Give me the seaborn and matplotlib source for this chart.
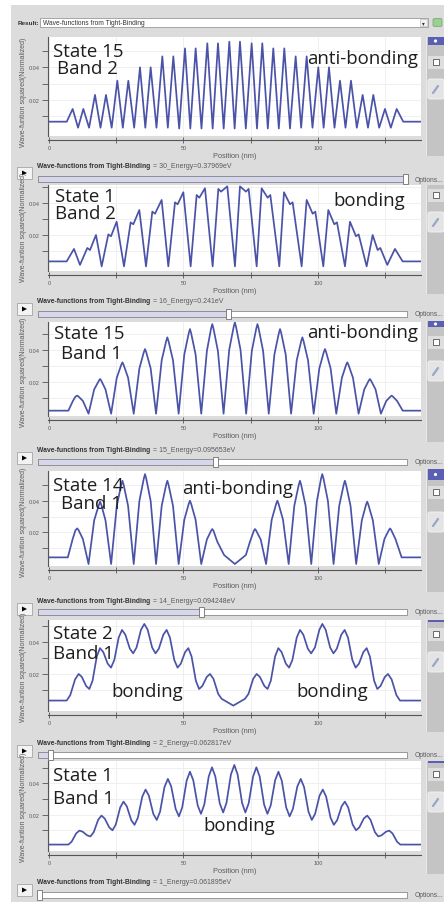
import matplotlib
matplotlib.use("Agg")
import matplotlib.pyplot as plt
import seaborn as sns
import pandas as pd
from matplotlib.patches import Rectangle, Polygon, FancyBboxPatch
from matplotlib.transforms import Bbox

# ---------------- wave-function samples (position in nm, |psi|^2 normalized) ----------------
s15b2_pos = [0, 6.6, 8.8, 10.8, 12.76, 14.9, 17.1, 19.15, 21.19, 23.3, 25.4, 27.45, 29.49, 31.66,
             33.83, 35.81, 37.79, 39.96, 42.13, 44.18, 46.22, 48.39, 50.56, 52.54, 54.52, 56.69,
             58.86, 60.85, 62.83, 64.94, 67.04, 69.02, 71.0, 73.17, 75.34, 77.32, 79.3, 81.35,
             83.39, 85.44, 87.48, 89.59, 91.7, 93.75, 95.79, 97.96, 100.12, 102.1, 104.09, 106.14,
             108.18, 110.23, 112.27, 114.44, 116.61, 118.59, 120.57, 122.74, 124.91, 127.08, 129.25,
             131.7, 138.5]
s15b2_psi2 = [0.0067, 0.0067,
              0.0145, 0.003, 0.0145, 0.003, 0.0231, 0.003, 0.0231, 0.003, 0.0318, 0.003,
              0.0318, 0.003, 0.0400, 0.003, 0.0400, 0.003, 0.0467, 0.003, 0.0467, 0.0025,
              0.0516, 0.0025, 0.0516, 0.0025, 0.0547, 0.0025, 0.0547, 0.0025, 0.0557, 0.0025,
              0.0557, 0.0025, 0.0547, 0.0025, 0.0547, 0.0025, 0.0516, 0.0025, 0.0516, 0.0025,
              0.0467, 0.003, 0.0467, 0.003, 0.0400, 0.003, 0.0400, 0.003, 0.0318, 0.003,
              0.0318, 0.003, 0.0231, 0.003, 0.0231, 0.003, 0.0145, 0.003, 0.0145,
              0.0067, 0.0067]

s1b2_pos = [0, 6.57, 9.29, 11.52,
            14.25, 15.24, 17.47, 19.58,
            22.06, 23.05, 25.15, 27.88,
            30.36, 31.35, 33.58, 36.06,
            38.41, 39.41, 41.88, 44.36,
            46.84, 47.83, 49.94, 52.66,
            54.90, 55.88, 57.99, 60.84,
            62.95, 63.94, 66.29, 69.14,
            71.0, 73.23, 74.23, 77.2,
            79.06, 81.29, 82.28, 85.62,
            87.36, 89.59, 90.58, 93.93,
            95.79, 98.02, 99.01, 101.98,
            103.84, 106.07, 107.06, 110.04,
            111.9, 114.13, 115.12, 118.09,
            120.32, 122.18, 123.17, 125.77,
            128.62, 131.47, 138.5]
s1b2_psi2 = [0.0035, 0.0035, 0.0113, 0.0013,
             0.0119, 0.0106, 0.0200, 0.0004,
             0.0204, 0.0192, 0.0283, 0.0004,
             0.0279, 0.0267, 0.0356, 0.0004,
             0.0346, 0.0333, 0.0419, 0.0004,
             0.0404, 0.0392, 0.0467, 0.0004,
             0.0450, 0.0433, 0.0492, 0.0004,
             0.0488, 0.0471, 0.0504, 0.0004,
             0.0504, 0.0471, 0.0488, 0.0004,
             0.0492, 0.0433, 0.0450, 0.0004,
             0.0467, 0.0392, 0.0404, 0.0004,
             0.0419, 0.0333, 0.0346, 0.0004,
             0.0356, 0.0267, 0.0279, 0.0004,
             0.0283, 0.0192, 0.0204, 0.0004,
             0.0200, 0.0106, 0.0119, 0.0013,
             0.0113, 0.0035, 0.0035]

s15b1_pos = [0, 7.2,
             8.9, 9.85, 10.5, 11.0, 12.6, 14.7,
             16.8, 18.55, 19.0, 19.45, 21.0, 23.1,
             25.2, 26.85, 27.3, 27.75, 29.4, 31.5,
             33.6, 35.25, 35.7, 36.15, 37.8, 39.8,
             41.9, 43.55, 44.0, 44.45, 46.1, 48.2,
             50.3, 51.95, 52.4, 52.85, 54.5, 56.6,
             58.7, 60.25, 60.7, 61.15, 62.8, 64.9,
             67.0, 68.65, 69.1, 69.55, 71.2, 73.3,
             75.4, 77.05, 77.5, 77.95, 79.6, 81.7,
             83.8, 85.45, 85.9, 86.35, 88.0, 90.0,
             92.1, 93.75, 94.2, 94.65, 96.3, 98.4,
             100.5, 102.15, 102.6, 103.05, 104.7, 106.8,
             108.9, 110.45, 110.9, 111.35, 113.0, 115.1,
             117.2, 118.85, 119.3, 119.75, 121.4, 123.4,
             125.4, 126.95, 127.4, 127.85, 129.4, 131.5,
             138.5]
s15b1_psi2 = [0.0019, 0.0019,
              0.0080, 0.0107, 0.0113, 0.0107, 0.0080, 0.0,
              0.0152, 0.0206, 0.0217, 0.0206, 0.0152, 0.0,
              0.0225, 0.0305, 0.0321, 0.0305, 0.0225, 0.0,
              0.0283, 0.0384, 0.0404, 0.0384, 0.0283, 0.0,
              0.0334, 0.0453, 0.0477, 0.0453, 0.0334, 0.0,
              0.0370, 0.0503, 0.0529, 0.0503, 0.0370, 0.0,
              0.0392, 0.0532, 0.0560, 0.0532, 0.0392, 0.0,
              0.0400, 0.0542, 0.0571, 0.0542, 0.0400, 0.0,
              0.0392, 0.0532, 0.0560, 0.0532, 0.0392, 0.0,
              0.0370, 0.0503, 0.0529, 0.0503, 0.0370, 0.0,
              0.0334, 0.0453, 0.0477, 0.0453, 0.0334, 0.0,
              0.0283, 0.0384, 0.0404, 0.0384, 0.0283, 0.0,
              0.0225, 0.0305, 0.0321, 0.0305, 0.0225, 0.0,
              0.0152, 0.0206, 0.0217, 0.0206, 0.0152, 0.0,
              0.0080, 0.0107, 0.0113, 0.0107, 0.0080, 0.0019,
              0.0019]

s14b1_pos = [0, 7.0,
             8.8, 9.85, 10.5, 11.0, 12.6, 14.7,
             16.8, 18.55, 19.0, 19.45, 21.0, 23.1,
             25.2, 26.85, 27.3, 27.75, 29.4, 31.5,
             33.6, 35.25, 35.7, 36.15, 37.8, 39.8,
             41.9, 43.55, 44.0, 44.45, 46.1, 48.2,
             50.3, 51.95, 52.4, 52.85, 54.5, 56.6,
             58.7, 60.25, 60.7, 61.15, 62.6, 65.1, 69.1, 73.2, 74.7, 76.15,
             76.6, 77.05, 78.7, 80.7,
             82.8, 84.45, 84.9, 85.35, 87.0, 89.1,
             91.2, 92.85, 93.3, 93.75, 95.4, 97.5,
             99.6, 101.15, 101.6, 102.05, 103.7, 105.8,
             107.9, 109.55, 110.0, 110.45, 112.1, 114.2,
             116.3, 117.85, 118.3, 118.75, 120.4, 122.6,
             124.7, 126.35, 126.8, 127.25, 128.8, 131.1,
             138.5]
s14b1_psi2 = [0.0042, 0.0042,
              0.0158, 0.0214, 0.0225, 0.0214, 0.0158, 0.0,
              0.0276, 0.0374, 0.0394, 0.0374, 0.0276, 0.0,
              0.0368, 0.0500, 0.0526, 0.0500, 0.0368, 0.0,
              0.0398, 0.0540, 0.0568, 0.0540, 0.0398, 0.0,
              0.0368, 0.0500, 0.0526, 0.0500, 0.0368, 0.0,
              0.0280, 0.0380, 0.0400, 0.0380, 0.0280, 0.0,
              0.0155, 0.0210, 0.0221, 0.0210, 0.0140, 0.0057, 0.0, 0.0057, 0.0140, 0.0210,
              0.0221, 0.0210, 0.0155, 0.0,
              0.0280, 0.0380, 0.0400, 0.0380, 0.0280, 0.0,
              0.0368, 0.0500, 0.0526, 0.0500, 0.0368, 0.0,
              0.0398, 0.0540, 0.0568, 0.0540, 0.0398, 0.0,
              0.0368, 0.0500, 0.0526, 0.0500, 0.0368, 0.0,
              0.0276, 0.0374, 0.0394, 0.0374, 0.0276, 0.0,
              0.0158, 0.0214, 0.0225, 0.0214, 0.0158, 0.0042,
              0.0042]

s2b1_pos = [0, 6.57, 7.9, 9.7,
            11.03, 12.22, 13.81, 15.0, 16.19, 17.77,
            18.96, 20.19, 21.82, 23.05, 24.28, 25.91,
            27.14, 28.39, 30.05, 31.3, 32.54, 34.2,
            35.44, 36.69, 38.35, 39.6, 40.84, 42.5,
            43.74, 44.96, 46.58, 47.8, 49.0, 50.6,
            51.8, 53.0, 54.6, 55.8, 57.0, 58.64,
            59.85, 61.15, 62.9, 64.19, 68.53, 72.86, 74.16, 75.9,
            77.2, 78.42, 80.06, 81.26, 82.46, 84.06,
            85.26, 86.48, 88.06, 89.26, 90.48, 92.1,
            93.32, 94.56, 96.22, 97.46, 98.86, 100.52,
            101.62, 102.86, 104.52, 105.76, 107.01, 108.67,
            109.92, 111.15, 112.78, 114.01, 115.24, 116.87,
            118.1, 119.29, 120.87, 122.06, 123.25, 124.84,
            126.03, 127.37, 129.16, 130.49, 138.5]
s2b1_psi2 = [0.0032, 0.0032, 0.0066, 0.0166,
             0.0200, 0.0181, 0.0124, 0.0105, 0.0157, 0.0311,
             0.0363, 0.0338, 0.0265, 0.0240, 0.0288, 0.0430,
             0.0478, 0.0448, 0.0360, 0.0330, 0.0367, 0.0479,
             0.0516, 0.0479, 0.0367, 0.0330, 0.0360, 0.0448,
             0.0478, 0.0430, 0.0288, 0.0240, 0.0265, 0.0338,
             0.0363, 0.0311, 0.0157, 0.0105, 0.0124, 0.0181,
             0.0200, 0.0169, 0.0074, 0.0043, 0.0, 0.0043, 0.0074, 0.0169,
             0.0200, 0.0181, 0.0124, 0.0105, 0.0157, 0.0311,
             0.0363, 0.0338, 0.0265, 0.0240, 0.0288, 0.0430,
             0.0478, 0.0448, 0.0360, 0.0330, 0.0367, 0.0479,
             0.0516, 0.0479, 0.0367, 0.0330, 0.0360, 0.0448,
             0.0478, 0.0430, 0.0288, 0.0240, 0.0265, 0.0338,
             0.0363, 0.0311, 0.0157, 0.0105, 0.0124, 0.0181,
             0.0200, 0.0166, 0.0066, 0.0032, 0.0032]

s1b1_pos = [0, 7.2, 8.4, 10.1,
            11.3, 12.53, 14.18, 15.4, 16.63, 18.28,
            19.5, 20.73, 22.38, 23.6, 24.83, 26.48,
            27.7, 28.93, 30.58, 31.8, 33.03, 34.68,
            35.9, 37.13, 38.78, 40.05, 41.28, 42.93,
            44.2, 45.43, 47.08, 48.3, 49.53, 51.18,
            52.4, 53.63, 55.28, 56.5, 57.73, 59.38,
            60.6, 61.83, 63.48, 64.75, 65.98, 67.63,
            68.9, 70.13, 71.78, 73.0, 74.23, 75.88,
            77.1, 78.33, 79.98, 81.2, 82.43, 84.08,
            85.3, 86.53, 88.18, 89.45, 90.68, 92.33,
            93.6, 94.83, 96.48, 97.7, 98.93, 100.58,
            101.8, 103.03, 104.68, 105.9, 107.13, 108.78,
            110.0, 111.23, 112.88, 114.15, 115.38, 117.03,
            118.3, 119.53, 121.18, 122.4, 123.63, 125.28,
            126.5, 127.7, 129.4, 130.6, 138.5]
s1b1_psi2 = [0.0009, 0.0009, 0.0027, 0.0080,
             0.0098, 0.0091, 0.0068, 0.0061, 0.0088, 0.0167,
             0.0194, 0.0175, 0.0119, 0.0100, 0.0137, 0.0246,
             0.0283, 0.0253, 0.0165, 0.0135, 0.0180, 0.0315,
             0.0360, 0.0321, 0.0205, 0.0166, 0.0218, 0.0376,
             0.0428, 0.0380, 0.0237, 0.0189, 0.0246, 0.0417,
             0.0474, 0.0420, 0.0259, 0.0205, 0.0264, 0.0443,
             0.0502, 0.0444, 0.0272, 0.0214, 0.0275, 0.0456,
             0.0517, 0.0456, 0.0275, 0.0214, 0.0272, 0.0444,
             0.0502, 0.0443, 0.0264, 0.0205, 0.0259, 0.0420,
             0.0474, 0.0417, 0.0246, 0.0189, 0.0237, 0.0380,
             0.0428, 0.0376, 0.0218, 0.0166, 0.0205, 0.0321,
             0.0360, 0.0315, 0.0180, 0.0135, 0.0165, 0.0253,
             0.0283, 0.0246, 0.0137, 0.0100, 0.0119, 0.0175,
             0.0194, 0.0167, 0.0088, 0.0061, 0.0068, 0.0091,
             0.0098, 0.0080, 0.0027, 0.0009, 0.0009]

# energy selector captions and slider settings shown under each plot
energy_labels = ["30_Energy=0.37969eV", "16_Energy=0.241eV", "15_Energy=0.095653eV",
                 "14_Energy=0.094248eV", "2_Energy=0.062817eV", "1_Energy=0.061895eV"]
slider_fraction = [0.995, 0.516, 0.481, 0.443, 0.034, 0.004]

x_ticks = [0, 25, 50, 75, 100, 125]
x_ticklabels = ["0", "", "50", "", "100", ""]
y_ticks = [0.01, 0.02, 0.03, 0.04, 0.05]
y_ticklabels = ["", "0.02", "", "0.04", ""]
y_title = "Wave-funtion squared(Normalized)"
result_name = "Wave-functions from Tight-Binding"

# ---------------- figure set-up ----------------
W, H = 444, 903
sns.set_theme(style="white")
plt.rcParams["font.family"] = ["Liberation Sans", "DejaVu Sans"]

fig = plt.figure(figsize=(W / 100, H / 100), dpi=100)
fig.patch.set_facecolor("white")

bg = fig.add_axes([0, 0, 1, 1], zorder=0)
bg.set_xlim(0, W); bg.set_ylim(H, 0); bg.axis("off")
fg = fig.add_axes([0, 0, 1, 1], zorder=20)
fg.set_xlim(0, W); fg.set_ylim(H, 0); fg.axis("off")

PANEL = "#dcdcdc"
LINE = "#4a53a8"
TXT = "#333333"
GREY_TXT = "#5a5a5a"
BIG = dict(family=["Open Sans", "DejaVu Sans"], fontsize=13.4, color="#1e1e1e")

bg.add_patch(Rectangle((11, 6), W - 11, H - 6, fc=PANEL, ec="none"))

# result chooser
bg.text(18, 23.5, "Result:", fontsize=4.6, weight="bold", color=TXT, va="center")
bg.add_patch(Rectangle((40, 19), 388, 9, fc="white", ec="#9a9a9a", lw=0.6))
bg.text(43, 23.5, result_name, fontsize=4.8, color=TXT, va="center")
bg.add_patch(Rectangle((420, 20), 7, 7, fc="#f2f2f2", ec="#b0b0b0", lw=0.4))
bg.text(423.5, 23.8, "▾", fontsize=4, color="#333", ha="center", va="center",
        family=["DejaVu Sans"])
bg.add_patch(FancyBboxPatch((433, 19.5), 9, 8, boxstyle="round,pad=0,rounding_size=1.5",
                            fc="#9ccf93", ec="#6fa36a", lw=0.5))

panels = [
    dict(x=s15b2_pos, y=s15b2_psi2, top=38, bottom=137, y04=68.3, ppu=16.33,
         big=[("State 15", 53, 57, "left"), ("Band 2", 57, 74, "left"),
              ("anti-bonding", 418, 64.5, "right")],
         strip=(38, 157), blue=8, square=60, pencil=80),
    dict(x=s1b2_pos, y=s1b2_psi2, top=186, bottom=272, y04=204, ppu=16.0,
         big=[("State 1", 55, 202.5, "left"), ("Band 2", 55, 219.5, "left"),
              ("bonding", 333, 206, "left")],
         strip=(186, 295), blue=0, square=193, pencil=213),
    dict(x=s15b1_pos, y=s15b1_psi2, top=323, bottom=417, y04=350.7, ppu=16.0,
         big=[("State 15", 54, 339.5, "left"), ("Band 1", 61, 359.5, "left"),
              ("anti-bonding", 418, 338, "right")],
         strip=(322, 443), blue=6, square=340, pencil=362),
    dict(x=s14b1_pos, y=s14b1_psi2, top=472, bottom=567, y04=501.7, ppu=15.83,
         big=[("State 14", 53, 491, "left"), ("Band 1", 61, 509.5, "left"),
              ("anti-bonding", 182, 494, "left")],
         strip=(470, 593), blue=11, square=490, pencil=513),
    dict(x=s2b1_pos, y=s2b1_psi2, top=621, bottom=712, y04=643.3, ppu=15.83,
         big=[("State 2", 53, 639.5, "left"), ("Band 1", 53, 659.5, "left"),
              ("bonding", 111, 697.5, "left"), ("bonding", 296, 697.5, "left")],
         strip=(621, 733), blue=2, square=632, pencil=653),
    dict(x=s1b1_pos, y=s1b1_psi2, top=762, bottom=852, y04=784.3, ppu=15.67,
         big=[("State 1", 53, 781, "left"), ("Band 1", 53, 804.5, "left"),
              ("bonding", 203, 831, "left")],
         strip=(762, 875), blue=2, square=772, pencil=793),
]

rows = [(166, 180), (302, 315), (451, 462.5), (602, 613), (744, 756), (883, 896)]

AX_L, AX_R = 48, 421
TRACK_L, TRACK_R = 38, 407

for p, (hy, sy), elabel, frac in zip(panels, rows, energy_labels, slider_fraction):
    top, bottom = p["top"], p["bottom"]
    ax = fig.add_axes([AX_L / W, 1 - bottom / H, (AX_R - AX_L) / W, (bottom - top) / H],
                      zorder=5)
    ax.set_facecolor("white")
    df = pd.DataFrame({"Position (nm)": p["x"], "psi2": p["y"]})
    sns.lineplot(data=df, x="Position (nm)", y="psi2", ax=ax, color=LINE, linewidth=1.25,
                 estimator=None, sort=False)
    ax.set_xlim(-0.37, 138.3)
    ylo = 0.04 - (bottom - p["y04"]) / p["ppu"] * 0.01
    yhi = 0.04 + (p["y04"] - top) / p["ppu"] * 0.01
    ax.set_ylim(ylo, yhi)

    ax.set_xticks(x_ticks)
    ax.set_xticklabels(x_ticklabels)
    ax.set_yticks(y_ticks)
    ax.set_yticklabels(y_ticklabels)
    ax.tick_params(axis="x", bottom=True, direction="inout", length=4, width=0.6,
                   color="#555555", labelsize=4, labelcolor=GREY_TXT, pad=1.5)
    ax.tick_params(axis="y", left=True, direction="out", length=4, width=0.6,
                   color="#555555", labelsize=4, labelcolor=GREY_TXT, pad=2)
    ax.set_xlabel("Position (nm)", fontsize=5.3, color=GREY_TXT, labelpad=1.5)
    ax.set_ylabel("")
    ax.grid(True, color="#ededed", lw=0.6)
    for side in ("top", "right"):
        ax.spines[side].set_visible(False)
    for side in ("left", "bottom"):
        ax.spines[side].set_color("#555555")
        ax.spines[side].set_linewidth(0.8)
    ax.spines["bottom"].set_position(("outward", 3))

    # rotated axis title, cut off by the panel above as in the viewer
    clip = Bbox([[0, H - (bottom + 14)], [40, H - (top - 4)]])
    bg.text(23, bottom + 10, y_title, rotation=90, rotation_mode="anchor", ha="left",
            va="center", fontsize=5, color=GREY_TXT, clip_on=True, clip_box=clip)

    # annotations over the curves
    for txt, tx, ty, ha in p["big"]:
        fg.text(tx, ty, txt, ha=ha, va="baseline", **BIG)

    # tool strip to the right of the plot
    s0, s1 = p["strip"]
    bg.add_patch(Rectangle((426, s0), 18, s1 - s0, fc="#c4c4c4", ec="none"))
    bg.add_patch(Rectangle((426, s0), 1, s1 - s0, fc="#e9e9e9", ec="none"))
    if p["blue"]:
        bg.add_patch(Rectangle((428, s0), 16, p["blue"], fc="#5a5fb4", ec="none"))
        if p["blue"] > 5:
            bg.add_patch(plt.Circle((435.5, s0 + p["blue"] / 2), 1.6, fc="white", ec="none"))
    bg.add_patch(Rectangle((428, p["square"] - 3), 16, 13, fc="#dedede", ec="none"))
    bg.add_patch(Rectangle((432.5, p["square"]), 6, 6, fc="white", ec="#555", lw=0.6))
    bg.add_patch(FancyBboxPatch((428, p["pencil"]), 16, 20,
                                boxstyle="round,pad=0,rounding_size=2",
                                fc="#e4e4e4", ec="#f4f4f4", lw=0.6))
    bg.plot([433, 438], [p["pencil"] + 14, p["pencil"] + 7], color="#9aa6c8", lw=1.6,
            solid_capstyle="round")

    # play button, caption, slider and options link
    bg.add_patch(Rectangle((17, hy + 2), 15, 12, fc="#f3f3f3", ec="#a5a5a5", lw=0.6))
    bg.add_patch(Polygon([[22, hy + 5.5], [22, hy + 10.5], [27, hy + 8]], closed=True,
                         fc="black", ec="none"))
    bg.text(37, hy, result_name, fontsize=4.9, weight="bold", color=TXT, va="center")
    bg.text(153, hy, "= " + elabel, fontsize=5.0, color=GREY_TXT, va="center")
    thumb = TRACK_L + frac * (TRACK_R - TRACK_L)
    bg.add_patch(Rectangle((TRACK_L, sy - 3), TRACK_R - TRACK_L, 6, fc="white",
                           ec="#8a8a8a", lw=0.6))
    bg.add_patch(Rectangle((TRACK_L, sy - 3), thumb - TRACK_L, 6, fc="#d6d6ec",
                           ec="#8a8a8a", lw=0.6))
    bg.add_patch(Rectangle((thumb - 2.5, sy - 5), 5, 10, fc="white", ec="#6f6f6f", lw=0.6))
    bg.text(415, sy, "Options...", fontsize=4.8, color=GREY_TXT, va="center")

fig.savefig("out.png", dpi=100, facecolor=fig.get_facecolor())
